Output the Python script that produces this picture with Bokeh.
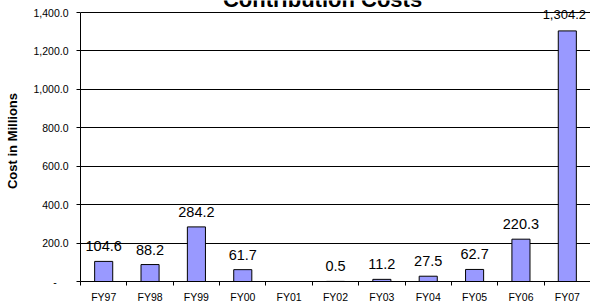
from bokeh.plotting import figure
from bokeh.models import (Range1d, FixedTicker, CustomJSTickFormatter,
                          ColumnDataSource, LabelSet, Label)
from bokeh.core.properties import value
from bokeh.embed import file_html
from bokeh.resources import INLINE

# ---- data ----
categories = ["FY97", "FY98", "FY99", "FY00", "FY01", "FY02",
              "FY03", "FY04", "FY05", "FY06", "FY07"]
costs = [104.6, 88.2, 284.2, 61.7, 0.0, 0.5, 11.2, 27.5, 62.7, 220.3, 1304.2]
y_ticks = [0, 200, 400, 600, 800, 1000, 1200, 1400]
title_text = "Contribution Costs"
y_label_text = "Cost in Millions"

FONT = "Liberation Sans"

xc = [i + 0.5 for i in range(len(categories))]
labels = ["" if v == 0 else f"{v:,.1f}" for v in costs]

# frame reaches the top edge so the title and the top value label are not clipped;
# the value axis itself stops at 1,400
p = figure(width=590, height=305, output_backend="svg", toolbar_location=None,
           x_range=Range1d(0, len(categories)), y_range=Range1d(0, 1462.5),
           min_border_left=80, min_border_right=0, min_border_top=0,
           min_border_bottom=24)
p.outline_line_color = None
p.background_fill_color = "white"
p.border_fill_color = "white"

src = ColumnDataSource(dict(x=xc, top=costs, lab=labels))
p.vbar(x="x", top="top", bottom=0, width=0.39, source=src,
       fill_color="#9999FF", line_color="black", line_width=1)

# x axis: labels at centres, tick marks at category boundaries
xa = p.xaxis[0]
xa.ticker = FixedTicker(ticks=xc, minor_ticks=list(range(len(categories) + 1)))
xa.formatter = CustomJSTickFormatter(args=dict(cats=categories),
                                     code="return cats[Math.floor(tick)];")
xa.major_tick_in = 0
xa.major_tick_out = 0
xa.minor_tick_in = 0
xa.minor_tick_out = 4
xa.minor_tick_line_color = "black"
xa.axis_line_color = "black"
xa.major_label_standoff = 5
xa.major_label_text_font = FONT
xa.major_label_text_font_size = "10.5px"
xa.major_label_text_color = "black"

ya = p.yaxis[0]
ya.bounds = (y_ticks[0], y_ticks[-1])
ya.ticker = FixedTicker(ticks=y_ticks, minor_ticks=[])
ya.formatter = CustomJSTickFormatter(code="""
if (tick == 0) { return "-\\u00a0\\u00a0\\u00a0\\u00a0"; }
return tick.toLocaleString('en-US', {minimumFractionDigits: 1, maximumFractionDigits: 1});
""")
ya.major_tick_in = 0
ya.major_tick_out = 4
ya.major_tick_line_color = "black"
ya.axis_line_color = "black"
ya.major_label_standoff = 8
ya.major_label_text_font = FONT
ya.major_label_text_font_size = "10.5px"
ya.major_label_text_color = "black"
ya.axis_label = y_label_text
ya.axis_label_standoff = 10
ya.axis_label_text_font = FONT
ya.axis_label_text_font_size = "13px"
ya.axis_label_text_font_style = "bold"
ya.axis_label_text_color = "black"

p.xgrid.visible = False
p.ygrid.ticker = FixedTicker(ticks=y_ticks)
p.ygrid.grid_line_color = "black"
p.ygrid.grid_line_width = 1

# value labels
n = len(categories)
main_src = ColumnDataSource(dict(x=xc[:n - 1], y=costs[:n - 1], lab=labels[:n - 1]))
p.add_layout(LabelSet(x="x", y="y", text="lab", source=main_src,
                      y_offset=10, text_align="center", text_baseline="alphabetic",
                      text_font=value(FONT), text_font_size=value("14.5px"),
                      text_color="black"))
p.add_layout(Label(x=xc[n - 1], y=costs[n - 1], text=labels[n - 1],
                   x_offset=-3, y_offset=16.5, text_align="center",
                   text_baseline="alphabetic", text_font=FONT,
                   text_font_size="13px", text_color="black"))

# chart title (partly cut at the top edge, as in the reference)
p.add_layout(Label(x=5.22, y=1466, text=title_text, text_align="center",
                   text_baseline="alphabetic", text_font=FONT,
                   text_font_size="22px", text_font_style="bold",
                   text_color="black"))

open("out.html", "w").write(file_html(p, INLINE))
